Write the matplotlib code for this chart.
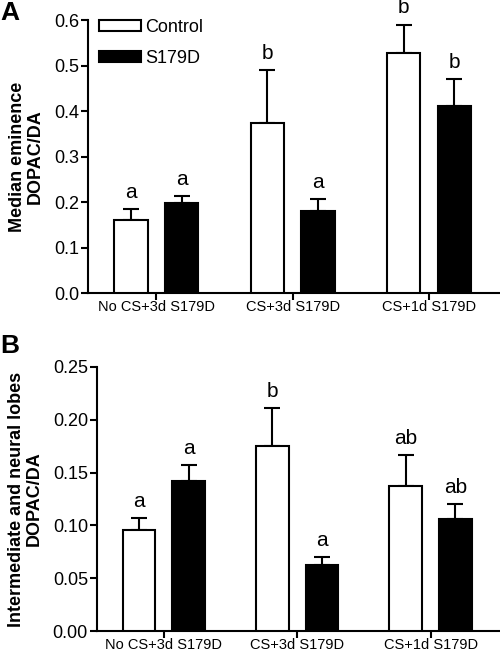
import numpy as np
import matplotlib
matplotlib.use("Agg")
import matplotlib.pyplot as plt

plt.rcParams['font.family'] = ['Liberation Sans', 'DejaVu Sans']

# data
groups = ["No CS+3d S179D", "CS+3d S179D", "CS+1d S179D"]
series = ["Control", "S179D"]

a_control = [0.160, 0.374, 0.527]
a_control_err = [0.025, 0.116, 0.063]
a_s179d = [0.198, 0.180, 0.412]
a_s179d_err = [0.015, 0.027, 0.058]
a_letters_control = ["a", "b", "b"]
a_letters_s179d = ["a", "a", "b"]

b_control = [0.096, 0.175, 0.137]
b_control_err = [0.011, 0.036, 0.030]
b_s179d = [0.142, 0.063, 0.106]
b_s179d_err = [0.015, 0.007, 0.014]
b_letters_control = ["a", "b", "ab"]
b_letters_s179d = ["a", "a", "ab"]

LW = 1.5
x = np.arange(len(groups))
off = 0.186
w = 0.245


def panel(ax, ctrl, ctrl_err, s179, s179_err, let_c, let_s, ymax, step, fmt, ylabel, legend=False):
    ax.bar(x - off, ctrl, w, color="white", edgecolor="black", linewidth=LW, label=series[0], zorder=3)
    ax.bar(x + off, s179, w, color="black", edgecolor="black", linewidth=LW, label=series[1], zorder=3)
    for xs, v, e in [(x - off, ctrl, ctrl_err), (x + off, s179, s179_err)]:
        ax.errorbar(xs, v, yerr=[np.zeros(len(v)), e], fmt="none", ecolor="black",
                    elinewidth=LW, capsize=6, capthick=LW, zorder=2)
    # significance letters
    for xs, v, e, lets in [(x - off, ctrl, ctrl_err, let_c), (x + off, s179, s179_err, let_s)]:
        for xi, vi, ei, t in zip(xs, v, e, lets):
            ax.annotate(t, (xi, vi + ei), xytext=(0, 8), textcoords="offset points",
                        ha="center", va="baseline", fontsize=15)

    ax.set_xlim(-0.5, 2.52)
    ax.set_ylim(0, ymax)
    ax.set_yticks(np.arange(0, ymax + step / 2, step))
    ax.yaxis.set_major_formatter(matplotlib.ticker.FormatStrFormatter(fmt))
    ax.set_xticks(x)
    ax.set_xticklabels(groups)
    ax.spines["top"].set_visible(False)
    ax.spines["right"].set_visible(False)
    for s in ["left", "bottom"]:
        ax.spines[s].set_linewidth(LW)
    ax.tick_params(axis="y", direction="out", length=5, width=LW, labelsize=13, pad=1.5)
    ax.tick_params(axis="x", direction="out", length=5, width=LW, labelsize=10.5, pad=0)
    ax.set_ylabel(ylabel, fontsize=13, fontweight="bold", linespacing=1.1, labelpad=7)
    if legend:
        ax.legend(loc="upper left", bbox_to_anchor=(0.01, 1.03), frameon=False, fontsize=13,
                  handlelength=2.3, handleheight=0.55, handletextpad=0.25, labelspacing=0.75,
                  borderaxespad=0)


fig = plt.figure(figsize=(5, 6.53), dpi=100)
axA = fig.add_axes([0.176, 0.5513, 0.824, 0.418])
axB = fig.add_axes([0.194, 0.0335, 0.806, 0.4045])

panel(axA, a_control, a_control_err, a_s179d, a_s179d_err, a_letters_control, a_letters_s179d,
      0.6, 0.1, "%.1f", "Median eminence\nDOPAC/DA", legend=True)
panel(axB, b_control, b_control_err, b_s179d, b_s179d_err, b_letters_control, b_letters_s179d,
      0.25, 0.05, "%.2f", "Intermediate and neural lobes\nDOPAC/DA")

# panel letters
fig.text(0.0, 0.998, "A", fontsize=19, fontweight="bold", ha="left", va="top")
fig.text(0.0, 1 - 334 / 653, "B", fontsize=19, fontweight="bold", ha="left", va="top")

fig.savefig("out.png", dpi=100)
